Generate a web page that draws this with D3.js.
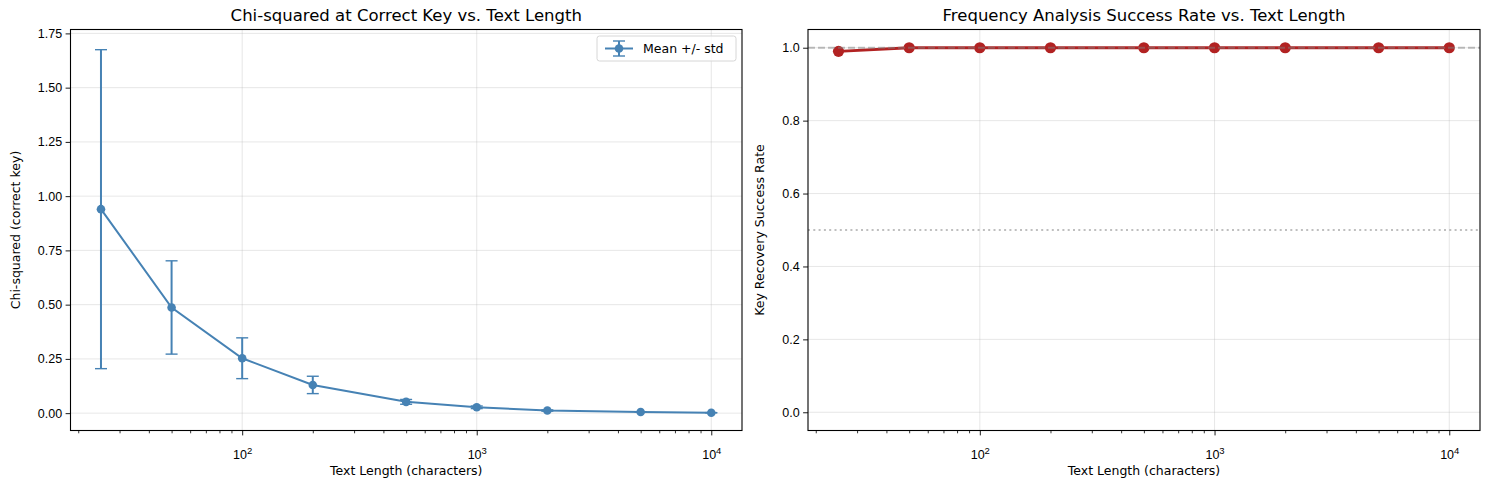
<!DOCTYPE html>
<html>
<head>
<meta charset="utf-8">
<script src="https://cdn.jsdelivr.net/npm/d3@7"></script>
<style>
  body { margin: 0; background: #fff; }
  svg { font-family: "DejaVu Sans", sans-serif; }
</style>
</head>
<body>
<script>
const textLengths = [25, 50, 100, 200, 500, 1000, 2000, 5000, 10000];
const chiMean = [0.94, 0.487, 0.253, 0.13, 0.052, 0.027, 0.012, 0.005, 0.002];
const chiStd = [0.735, 0.215, 0.094, 0.04, 0.011, 0.006, 0.003, 0.001, 0.0005];
const successRate = [0.99, 1, 1, 1, 1, 1, 1, 1, 1];
const chiTicks = [0, 0.25, 0.5, 0.75, 1.0, 1.25, 1.5, 1.75];
const rateTicks = [0, 0.2, 0.4, 0.6, 0.8, 1.0];
const xMajorTicks = [100, 1000, 10000];

const width = 1489;
const height = 489;
const plotTop = 29.5;
const plotBottom = 430.5;
const xDomain = [Math.pow(10, 1.268), Math.pow(10, 4.131)];

const svg = d3.select('body').append('svg').attr('width', width).attr('height', height);

function drawPanel(o) {
  const g = svg.append('g');
  const x = d3.scaleLog().domain(xDomain).range([o.left, o.right]);
  const y = d3.scaleLinear().domain(o.yDomain).range([plotBottom, plotTop]);

  // grid
  g.append('g')
    .selectAll('line')
    .data(xMajorTicks)
    .join('line')
    .attr('x1', d => x(d)).attr('x2', d => x(d))
    .attr('y1', plotTop).attr('y2', plotBottom)
    .attr('stroke', '#b0b0b0').attr('stroke-opacity', 0.3).attr('stroke-width', 1);
  g.append('g')
    .selectAll('line')
    .data(o.yTicks)
    .join('line')
    .attr('x1', o.left).attr('x2', o.right)
    .attr('y1', d => y(d)).attr('y2', d => y(d))
    .attr('stroke', '#b0b0b0').attr('stroke-opacity', 0.3).attr('stroke-width', 1);

  // x axis: minor ticks
  const minor = x.ticks().filter(d => !xMajorTicks.includes(d));
  g.append('g')
    .attr('transform', `translate(0,${plotBottom})`)
    .call(d3.axisBottom(x).tickValues(minor).tickSize(2.8).tickFormat(''))
    .call(a => a.select('.domain').remove())
    .call(a => a.selectAll('line').attr('stroke-width', 0.8));

  const xAxis = g.append('g')
    .attr('transform', `translate(0,${plotBottom})`)
    .call(d3.axisBottom(x).tickValues(xMajorTicks).tickSize(4.9).tickPadding(5).tickFormat(''))
    .call(a => a.select('.domain').remove())
    .call(a => a.selectAll('line').attr('stroke-width', 0.9));
  xAxis.selectAll('.tick text')
    .attr('font-size', 12.5)
    .attr('fill', '#000')
    .attr('dy', '1.45em')
    .each(function (d) {
      const t = d3.select(this);
      t.append('tspan').text('10');
      t.append('tspan').attr('dy', '-0.45em').attr('font-size', 9.5).text(Math.round(Math.log10(d)));
    });

  // y axis
  g.append('g')
    .attr('transform', `translate(${o.left},0)`)
    .call(d3.axisLeft(y).tickValues(o.yTicks).tickSize(4.9).tickPadding(3.5).tickFormat(o.fmt))
    .call(a => a.select('.domain').remove())
    .call(a => a.selectAll('line').attr('stroke-width', 0.9))
    .call(a => a.selectAll('text').attr('font-size', 12.5).attr('fill', '#000'));

  // labels
  g.append('text')
    .attr('x', (o.left + o.right) / 2).attr('y', 21)
    .attr('text-anchor', 'middle').attr('font-size', 16.5)
    .text(o.title);
  g.append('text')
    .attr('x', (o.left + o.right) / 2).attr('y', 475)
    .attr('text-anchor', 'middle').attr('font-size', 12.5)
    .text('Text Length (characters)');
  g.append('text')
    .attr('transform', `translate(${o.left - o.ylabOff},${(plotTop + plotBottom) / 2}) rotate(-90)`)
    .attr('text-anchor', 'middle').attr('font-size', 12.5)
    .text(o.ylabel);

  return { g, x, y };
}

// left panel
const L = drawPanel({
  left: 70.5, right: 742, yDomain: [-0.08, 1.768], yTicks: chiTicks,
  fmt: d3.format('.2f'), title: 'Chi-squared at Correct Key vs. Text Length',
  ylabel: 'Chi-squared (correct key)', ylabOff: 51
});

const chiData = textLengths.map((t, i) => ({ t, m: chiMean[i], s: chiStd[i] }));
const blue = '#4682b4';

L.g.append('path')
  .datum(chiData)
  .attr('fill', 'none').attr('stroke', blue).attr('stroke-width', 2)
  .attr('d', d3.line().x(d => L.x(d.t)).y(d => L.y(d.m)));

const eb = L.g.append('g').selectAll('g').data(chiData).join('g')
  .attr('stroke', blue).attr('stroke-width', 2);
eb.append('line')
  .attr('x1', d => L.x(d.t)).attr('x2', d => L.x(d.t))
  .attr('y1', d => L.y(d.m - d.s)).attr('y2', d => L.y(d.m + d.s));
eb.append('line')
  .attr('x1', d => L.x(d.t) - 6).attr('x2', d => L.x(d.t) + 6)
  .attr('y1', d => L.y(d.m - d.s)).attr('y2', d => L.y(d.m - d.s)).attr('stroke-width', 1.4);
eb.append('line')
  .attr('x1', d => L.x(d.t) - 6).attr('x2', d => L.x(d.t) + 6)
  .attr('y1', d => L.y(d.m + d.s)).attr('y2', d => L.y(d.m + d.s)).attr('stroke-width', 1.4);

L.g.append('g').selectAll('circle').data(chiData).join('circle')
  .attr('cx', d => L.x(d.t)).attr('cy', d => L.y(d.m)).attr('r', 4.3)
  .attr('fill', blue);

// legend
const lg = L.g.append('g').attr('transform', 'translate(597,36)');
lg.append('rect').attr('width', 139).attr('height', 25).attr('rx', 2.5)
  .attr('fill', '#fff').attr('fill-opacity', 0.8).attr('stroke', '#d6d6d6');
lg.append('line').attr('x1', 8).attr('x2', 36).attr('y1', 12.5).attr('y2', 12.5)
  .attr('stroke', blue).attr('stroke-width', 2);
lg.append('line').attr('x1', 22).attr('x2', 22).attr('y1', 5).attr('y2', 20)
  .attr('stroke', blue).attr('stroke-width', 2);
lg.append('line').attr('x1', 16).attr('x2', 28).attr('y1', 5).attr('y2', 5)
  .attr('stroke', blue).attr('stroke-width', 1.4);
lg.append('line').attr('x1', 16).attr('x2', 28).attr('y1', 20).attr('y2', 20)
  .attr('stroke', blue).attr('stroke-width', 1.4);
lg.append('circle').attr('cx', 22).attr('cy', 12.5).attr('r', 4.3).attr('fill', blue);
lg.append('text').attr('x', 46).attr('y', 17).attr('font-size', 12.5).text('Mean +/- std');

// right panel
const R = drawPanel({
  left: 808, right: 1480, yDomain: [-0.05, 1.05], yTicks: rateTicks,
  fmt: d3.format('.1f'), title: 'Frequency Analysis Success Rate vs. Text Length',
  ylabel: 'Key Recovery Success Rate', ylabOff: 44
});

const red = '#b22222';
const rateData = textLengths.map((t, i) => ({ t, r: successRate[i] }));

R.g.append('path')
  .datum(rateData)
  .attr('fill', 'none').attr('stroke', red).attr('stroke-width', 2.8)
  .attr('d', d3.line().x(d => R.x(d.t)).y(d => R.y(d.r)));
R.g.append('g').selectAll('circle').data(rateData).join('circle')
  .attr('cx', d => R.x(d.t)).attr('cy', d => R.y(d.r)).attr('r', 5.6)
  .attr('fill', red);

// reference lines
R.g.append('line')
  .attr('x1', 808).attr('x2', 1480).attr('y1', R.y(1)).attr('y2', R.y(1))
  .attr('stroke', 'gray').attr('stroke-opacity', 0.5).attr('stroke-width', 2)
  .attr('stroke-dasharray', '7,3');
R.g.append('line')
  .attr('x1', 808).attr('x2', 1480).attr('y1', R.y(0.5)).attr('y2', R.y(0.5))
  .attr('stroke', 'gray').attr('stroke-opacity', 0.5).attr('stroke-width', 2)
  .attr('stroke-dasharray', '2,3.3');

// spines
[[70.5, 742], [808, 1480]].forEach(([l, r]) => {
  svg.append('rect').attr('x', l).attr('y', plotTop).attr('width', r - l).attr('height', plotBottom - plotTop)
    .attr('fill', 'none').attr('stroke', '#000').attr('stroke-width', 1.1);
});
</script>
</body>
</html>
